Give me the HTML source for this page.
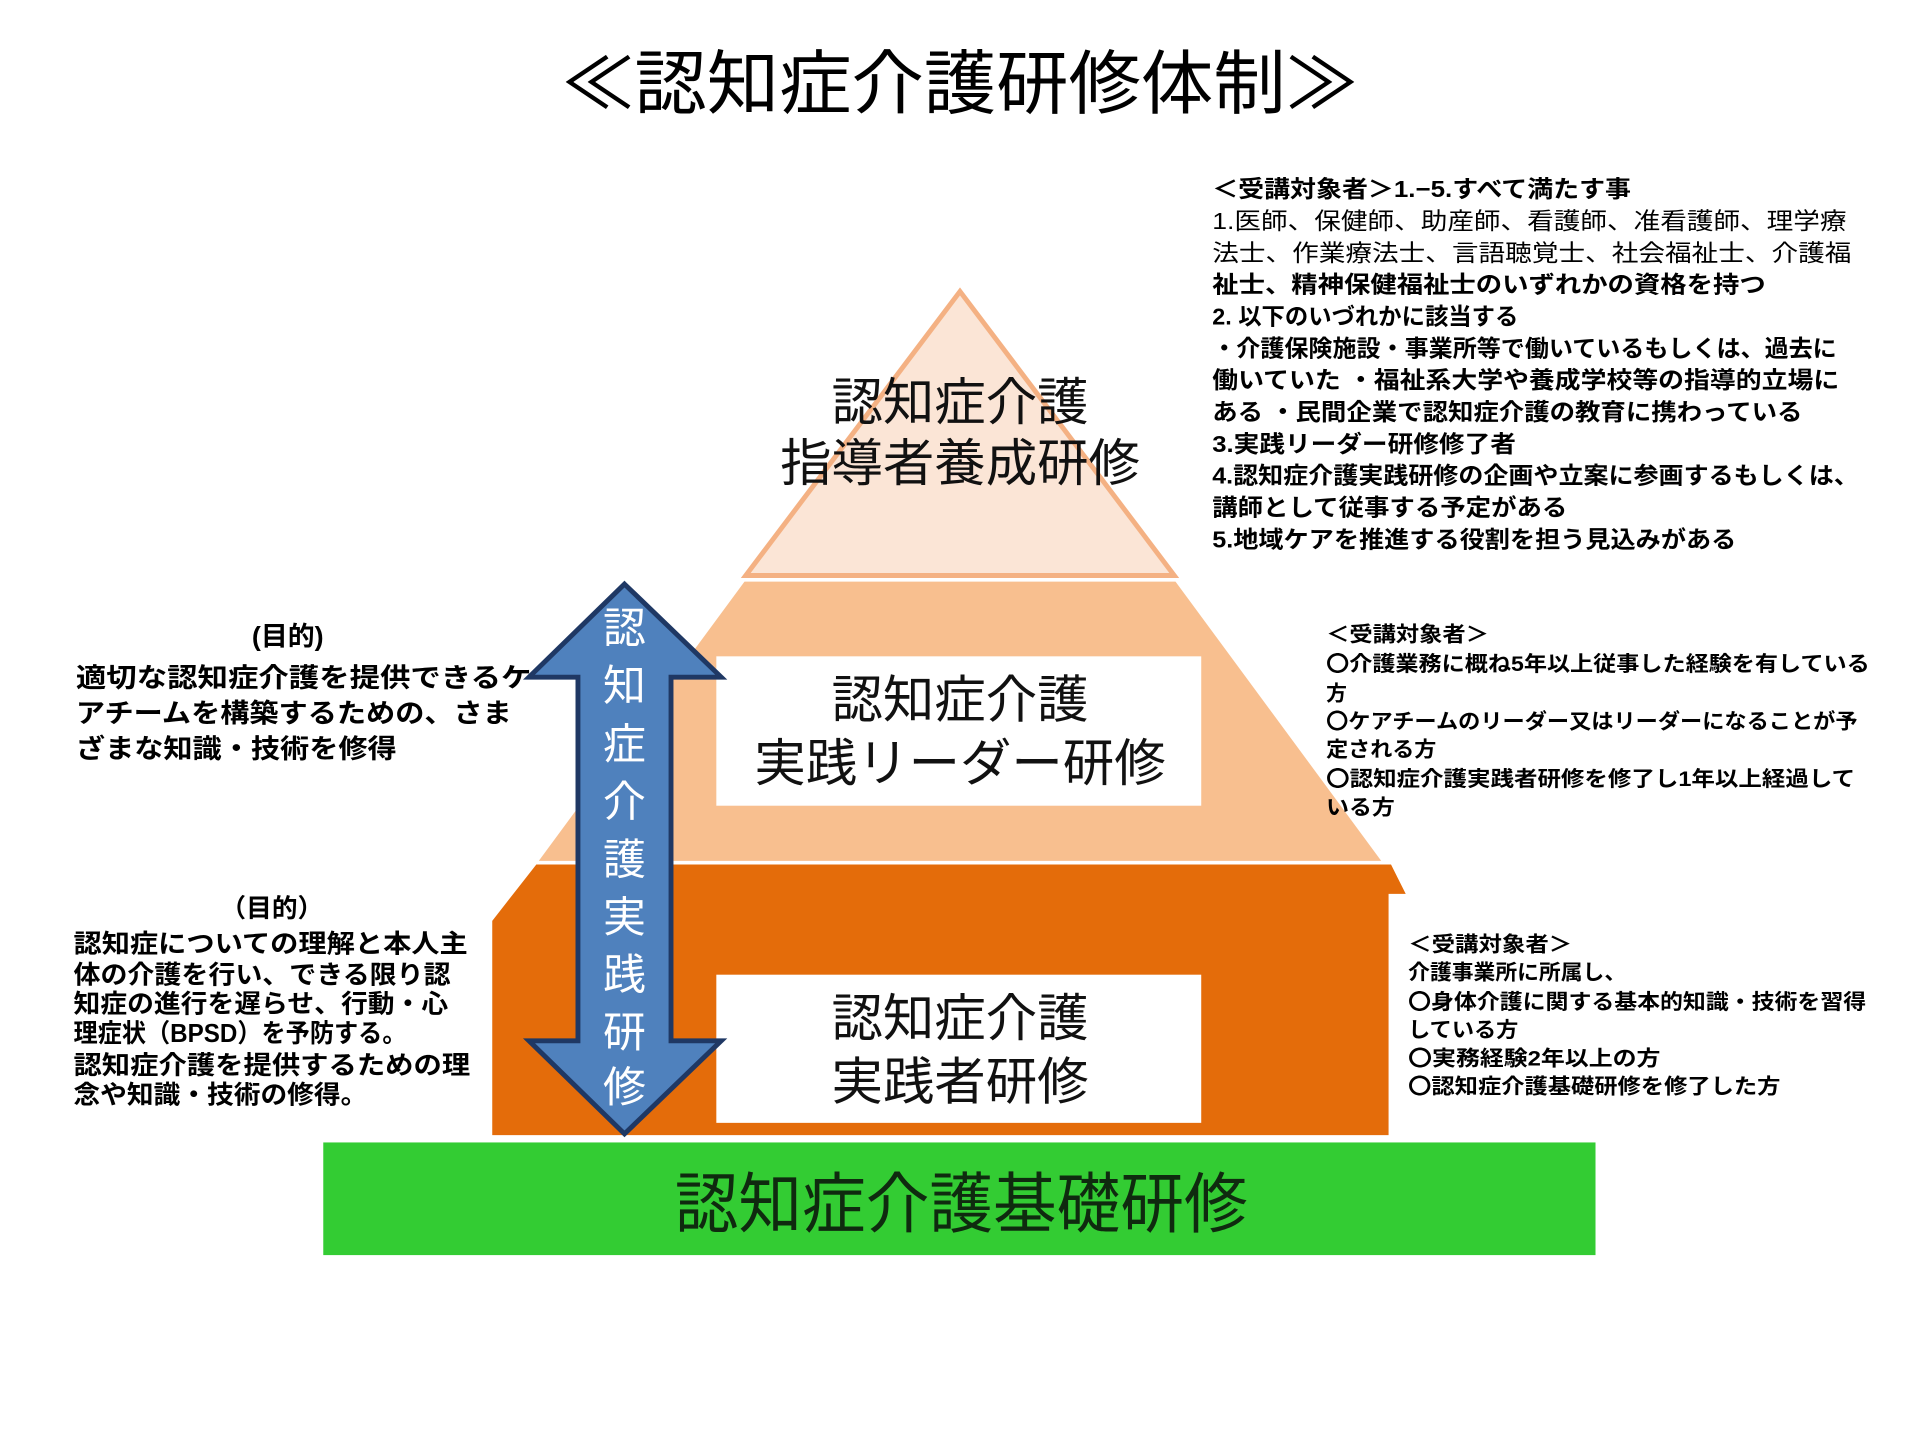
<!DOCTYPE html>
<html><head><meta charset="utf-8"><style>
html,body{margin:0;padding:0;background:#fff;}
svg{display:block;}
text{font-family:"Liberation Sans","Noto Sans CJK JP",sans-serif;}
.b{font-weight:bold;fill:#000;}
</style></head><body>
<svg width="1920" height="1440" viewBox="0 0 1568 1176" xmlns="http://www.w3.org/2000/svg">
<rect width="1568" height="1176" fill="#fff"/>
<text x="784" y="88" text-anchor="middle" font-size="57" fill="#000" textLength="650" lengthAdjust="spacingAndGlyphs">≪認知症介護研修体制≫</text>

<polygon points="784,238 959,470 609,470" fill="#fbe5d6" stroke="#f4b183" stroke-width="4"/>
<polygon points="608,475 960,475 1128,703 440,703" fill="#f8bf8f"/>
<rect x="585" y="536" width="396" height="122" fill="#fff"/>
<polygon points="438,706 1136,706 1148,730 1134,730 1134,927 402,927 402,752" fill="#e46c0a"/>
<rect x="585" y="796" width="396" height="121" fill="#fff"/>
<rect x="264" y="933" width="1039" height="92" fill="#33cc33"/>
<text x="785" y="1002" text-anchor="middle" font-size="54" fill="#0f2a0f" textLength="468" lengthAdjust="spacingAndGlyphs">認知症介護基礎研修</text>

<g font-size="42" fill="#111" text-anchor="middle">
<text x="784" y="343">認知症介護</text>
<text x="784" y="393">指導者養成研修</text>
<text x="784" y="586">認知症介護</text>
<text x="784" y="638">実践リーダー研修</text>
<text x="784" y="846">認知症介護</text>
<text x="784" y="898">実践者研修</text>
</g>

<polygon points="510,477 589,553 548,553 548,850 589,850 510,926 432,850 472,850 472,553 432,553" fill="#4f81bd" stroke="#1f3864" stroke-width="4" stroke-linejoin="miter"/>
<g font-size="35" fill="#fff" text-anchor="middle">
<text x="510" y="525">認</text>
<text x="510" y="572">知</text>
<text x="510" y="620">症</text>
<text x="510" y="667">介</text>
<text x="510" y="714">護</text>
<text x="510" y="761">実</text>
<text x="510" y="808">践</text>
<text x="510" y="855">研</text>
<text x="510" y="900">修</text>
</g>

<g class="b" font-size="19">
<text x="990" y="161" textLength="342" lengthAdjust="spacingAndGlyphs">＜受講対象者＞1.−5.すべて満たす事</text>
<text x="990" y="187" textLength="518" lengthAdjust="spacingAndGlyphs" font-weight="normal">1.医師、保健師、助産師、看護師、准看護師、理学療</text>
<text x="990" y="213" textLength="522" lengthAdjust="spacingAndGlyphs" font-weight="normal">法士、作業療法士、言語聴覚士、社会福祉士、介護福</text>
<text x="990" y="239" textLength="452" lengthAdjust="spacingAndGlyphs">祉士、精神保健福祉士のいずれかの資格を持つ</text>
<text x="990" y="265" textLength="250" lengthAdjust="spacingAndGlyphs">2. 以下のいづれかに該当する</text>
<text x="990" y="291" textLength="510" lengthAdjust="spacingAndGlyphs">・介護保険施設・事業所等で働いているもしくは、過去に</text>
<text x="990" y="317" textLength="512" lengthAdjust="spacingAndGlyphs">働いていた ・福祉系大学や養成学校等の指導的立場に</text>
<text x="990" y="343" textLength="482" lengthAdjust="spacingAndGlyphs">ある ・民間企業で認知症介護の教育に携わっている</text>
<text x="990" y="369" textLength="248" lengthAdjust="spacingAndGlyphs">3.実践リーダー研修修了者</text>
<text x="990" y="395" textLength="528" lengthAdjust="spacingAndGlyphs">4.認知症介護実践研修の企画や立案に参画するもしくは、</text>
<text x="990" y="421" textLength="290" lengthAdjust="spacingAndGlyphs">講師として従事する予定がある</text>
<text x="990" y="447" textLength="428" lengthAdjust="spacingAndGlyphs">5.地域ケアを推進する役割を担う見込みがある</text>
</g>

<g class="b" font-size="17">
<text x="1083" y="524" textLength="133" lengthAdjust="spacingAndGlyphs">＜受講対象者＞</text>
<text x="1083" y="548" textLength="444" lengthAdjust="spacingAndGlyphs">〇介護業務に概ね5年以上従事した経験を有している</text>
<text x="1083" y="572">方</text>
<text x="1083" y="595" textLength="434" lengthAdjust="spacingAndGlyphs">〇ケアチームのリーダー又はリーダーになることが予</text>
<text x="1083" y="618" textLength="90" lengthAdjust="spacingAndGlyphs">定される方</text>
<text x="1083" y="642" textLength="432" lengthAdjust="spacingAndGlyphs">〇認知症介護実践者研修を修了し1年以上経過して</text>
<text x="1083" y="665" textLength="56" lengthAdjust="spacingAndGlyphs">いる方</text>
</g>

<g class="b" font-size="17">
<text x="1150" y="777" textLength="134" lengthAdjust="spacingAndGlyphs">＜受講対象者＞</text>
<text x="1150" y="800" textLength="178" lengthAdjust="spacingAndGlyphs">介護事業所に所属し、</text>
<text x="1150" y="824" textLength="374" lengthAdjust="spacingAndGlyphs">〇身体介護に関する基本的知識・技術を習得</text>
<text x="1150" y="847" textLength="90" lengthAdjust="spacingAndGlyphs">している方</text>
<text x="1150" y="870" textLength="206" lengthAdjust="spacingAndGlyphs">〇実務経験2年以上の方</text>
<text x="1150" y="893" textLength="304" lengthAdjust="spacingAndGlyphs">〇認知症介護基礎研修を修了した方</text>
</g>

<g class="b" font-size="22">
<text x="235" y="527" text-anchor="middle">(目的)</text>
<text x="62" y="561" textLength="372" lengthAdjust="spacingAndGlyphs">適切な認知症介護を提供できるケ</text>
<text x="62" y="590" textLength="356" lengthAdjust="spacingAndGlyphs">アチームを構築するための、さま</text>
<text x="62" y="619" textLength="262" lengthAdjust="spacingAndGlyphs">ざまな知識・技術を修得</text>
</g>

<g class="b" font-size="21">
<text x="222" y="749" text-anchor="middle">（目的）</text>
<text x="60" y="778" textLength="322" lengthAdjust="spacingAndGlyphs">認知症についての理解と本人主</text>
<text x="60" y="803" textLength="308" lengthAdjust="spacingAndGlyphs">体の介護を行い、できる限り認</text>
<text x="60" y="827" textLength="306" lengthAdjust="spacingAndGlyphs">知症の進行を遅らせ、行動・心</text>
<text x="60" y="851" textLength="272" lengthAdjust="spacingAndGlyphs">理症状（BPSD）を予防する。</text>
<text x="60" y="877" textLength="324" lengthAdjust="spacingAndGlyphs">認知症介護を提供するための理</text>
<text x="60" y="901" textLength="240" lengthAdjust="spacingAndGlyphs">念や知識・技術の修得。</text>
</g>
</svg>
</body></html>
